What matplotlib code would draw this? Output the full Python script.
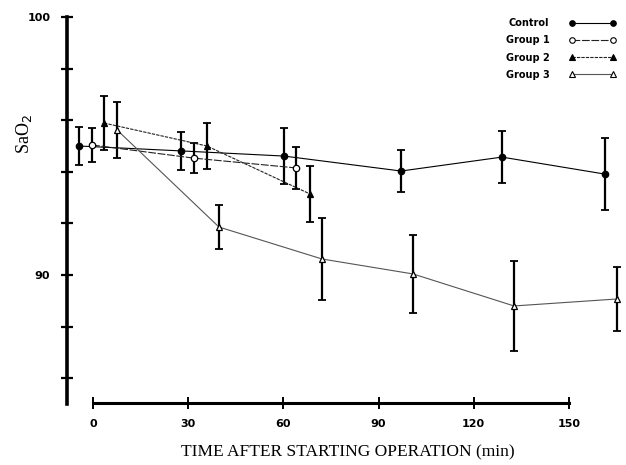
import matplotlib.pyplot as plt
from matplotlib.lines import Line2D

# time positions as drawn (groups are offset slightly so the bars don't overlap)
t_control = [-4.4, 27.7, 60.2, 97.1, 128.9, 161.4]
t_group1 = [-0.3, 31.8, 64.0]
t_group2 = [3.5, 35.9, 68.4]
t_group3 = [7.6, 39.7, 72.2, 100.9, 132.7, 165.1]

sao2_control = [95.0, 94.81, 94.61, 94.03, 94.57, 93.91]
err_control = [0.75, 0.75, 1.1, 0.8, 1.0, 1.4]
sao2_group1 = [95.04, 94.53, 94.15]
err_group1 = [0.65, 0.58, 0.8]
sao2_group2 = [95.89, 95.0, 93.14]
err_group2 = [1.06, 0.9, 1.1]
sao2_group3 = [95.62, 91.86, 90.62, 90.04, 88.8, 89.07]
err_group3 = [1.1, 0.85, 1.6, 1.5, 1.75, 1.25]

x_ticks = [0, 30, 60, 90, 120, 150]
y_ticks = [86, 88, 90, 92, 94, 96, 98, 100]

fig = plt.figure(figsize=(6.26, 4.65), dpi=100)
ax = fig.add_axes([67 / 626, 1 - 404 / 465, 1 - 67 / 626, (404 - 17) / 465])

series = [
    ("Control", t_control, sao2_control, err_control, "o", "black", "black", "-"),
    ("Group 1", t_group1, sao2_group1, err_group1, "o", "white", "#222222", (0, (7, 1.5))),
    ("Group 2", t_group2, sao2_group2, err_group2, "^", "black", "#222222", (0, (3, 1))),
    ("Group 3", t_group3, sao2_group3, err_group3, "^", "white", "#555555", "-"),
]

handles = []
for name, t, y, e, mk, fc, lc, ls in series:
    ax.errorbar(t, y, yerr=e, fmt="none", ecolor="black", elinewidth=1.6,
                capsize=2.6, capthick=1.3, clip_on=False, zorder=2)
    ax.plot(t, y, color=lc, linewidth=0.8, linestyle=ls, zorder=3, clip_on=False)
    ax.plot(t, y, linestyle="none", marker=mk, markersize=4.6, markerfacecolor=fc,
            markeredgecolor="black", markeredgewidth=0.9, zorder=4, clip_on=False)
    handles.append(Line2D([0], [0], color=lc, linewidth=0.8, linestyle=ls, marker=mk,
                          markersize=4, markerfacecolor=fc, markeredgecolor="black",
                          markeredgewidth=0.8))

ax.set_xlim(-8.2, 168)
ax.set_ylim(85, 100)

for s in ["top", "right"]:
    ax.spines[s].set_visible(False)
ax.spines["left"].set_linewidth(2.6)
ax.spines["left"].set_bounds(85, 100)
ax.spines["bottom"].set_linewidth(2.2)
ax.spines["bottom"].set_bounds(0, 150)
ax.spines["bottom"].set_position(("data", 85.05))

ax.set_yticks(y_ticks)
ax.set_yticklabels(["" if v not in (90, 100) else str(v) for v in y_ticks])
ax.set_xticks(x_ticks)
ax.set_xticklabels([str(v) for v in x_ticks])
ax.tick_params(axis="y", direction="inout", length=8, width=1.6, pad=8)
ax.tick_params(axis="x", direction="inout", length=8, width=1.4, pad=8)
for lab in ax.get_xticklabels() + ax.get_yticklabels():
    lab.set_fontsize(8)
    lab.set_fontweight("bold")

ax.legend(handles, [s[0] for s in series], loc="upper right", bbox_to_anchor=(0.997, 1.02),
          frameon=False, markerfirst=False, numpoints=2, handlelength=4.8,
          handletextpad=2.0, labelspacing=0.75, prop={"size": 7, "weight": "bold"})

fig.text(24 / 626, 1 - 134 / 465, r"SaO$_2$", rotation=90, ha="center", va="center",
         fontsize=13, family="Liberation Serif")
fig.text(348 / 626, 1 - 452 / 465, "TIME AFTER STARTING OPERATION (min)",
         ha="center", va="center", fontsize=12.5, family="Liberation Serif")

plt.savefig("out.png")
plt.close()
